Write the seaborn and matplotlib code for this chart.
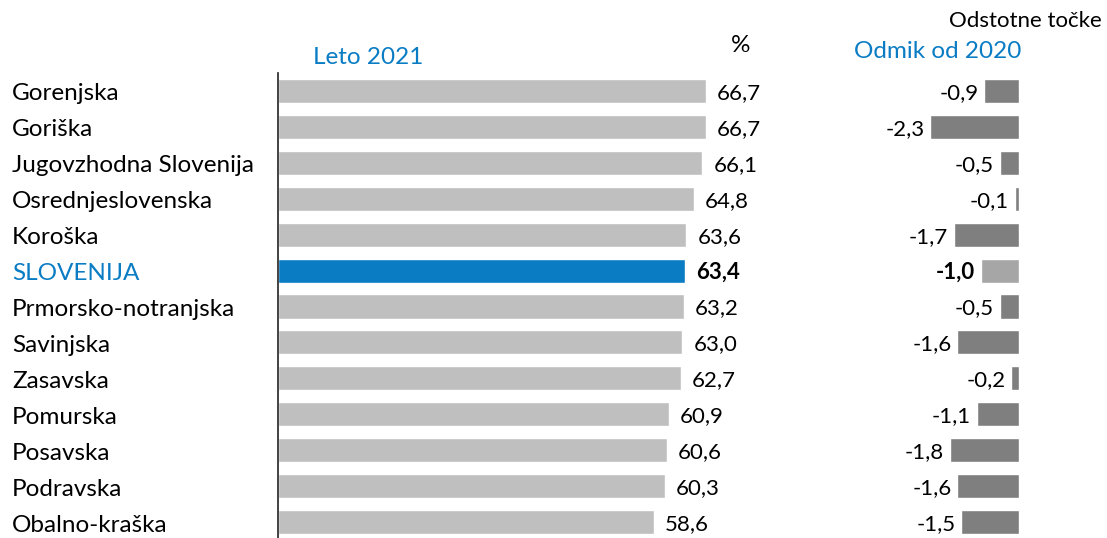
import matplotlib
matplotlib.use("Agg")
import matplotlib.pyplot as plt
import seaborn as sns
import pandas as pd

regions = ["Gorenjska", "Goriška", "Jugovzhodna Slovenija", "Osrednjeslovenska", "Koroška",
           "SLOVENIJA", "Prmorsko-notranjska", "Savinjska", "Zasavska", "Pomurska",
           "Posavska", "Podravska", "Obalno-kraška"]
rate_2021 = [66.7, 66.7, 66.1, 64.8, 63.6, 63.4, 63.2, 63.0, 62.7, 60.9, 60.6, 60.3, 58.6]
change_2020 = [-0.9, -2.3, -0.5, -0.1, -1.7, -1.0, -0.5, -1.6, -0.2, -1.1, -1.8, -1.6, -1.5]
highlight = "SLOVENIJA"

sns.set_theme(style="white")
plt.rcParams['font.family'] = ['Lato', 'DejaVu Sans']

BLUE = "#0A7CC4"
df = pd.DataFrame({"region": regions, "rate": rate_2021, "change": change_2020})

W, H = 1107, 538
fig = plt.figure(figsize=(W / 100, H / 100), dpi=100)

def ax_rect(x0, y0, x1, y1):
    return [x0 / W, 1 - y1 / H, (x1 - x0) / W, (y1 - y0) / H]

ax1 = fig.add_axes(ax_rect(278, 73, 278 + 6.42 * 70, 540))
ax2 = fig.add_axes(ax_rect(1019 - 38.5 * 3, 73, 1019, 540))

pal1 = {r: (BLUE if r == highlight else "#BFBFBF") for r in regions}
pal2 = {r: ("#A6A6A6" if r == highlight else "#7F7F7F") for r in regions}

sns.barplot(data=df, x="rate", y="region", hue="region", palette=pal1, orient="h",
            width=0.67, legend=False, ax=ax1, saturation=1)
sns.barplot(data=df, x="change", y="region", hue="region", palette=pal2, orient="h",
            width=0.67, legend=False, ax=ax2, saturation=1)

fs_lab = 17.5
fs_val = 16
ax1.set_xlim(0, 70)
ax1.set_ylim(12.5, -0.5)
ax2.set_xlim(-3, 0)
ax2.set_ylim(12.5, -0.5)

for ax in (ax1, ax2):
    ax.set_xlabel("")
    ax.set_ylabel("")
    ax.set_xticks([])
    for s in ax.spines.values():
        s.set_visible(False)
    ax.patch.set_alpha(0)

ax1.spines["left"].set_visible(True)
ax1.spines["left"].set_color("#222222")
ax1.spines["left"].set_linewidth(1.2)
ax1.set_yticks([])
ax2.set_yticks([])

for i, (r, v, c) in enumerate(zip(regions, rate_2021, change_2020)):
    bold = "bold" if r == highlight else "normal"
    col = BLUE if r == highlight else "black"
    ax1.annotate(r, xy=(0, i), xycoords=("axes fraction", "data"), xytext=(-266, -3),
                 textcoords="offset pixels", ha="left", va="center", fontsize=fs_lab, color=col)
    ax1.annotate(f"{v:.1f}".replace(".", ","), xy=(v, i), xytext=(11, -2), textcoords="offset pixels",
                 ha="left", va="center", fontsize=fs_val, fontweight=bold, color="black")
    ax2.annotate(f"{c:.1f}".replace(".", ","), xy=(c, i), xytext=(-6, -2), textcoords="offset pixels",
                 ha="right", va="center", fontsize=fs_val, fontweight=bold, color="black")

fig.text(368 / W, 1 - 58 / H, "Leto 2021", color=BLUE, fontsize=fs_lab, ha="center", va="center")
fig.text(741 / W, 1 - 46 / H, "%", color="black", fontsize=fs_lab, ha="center", va="center")
fig.text(1102 / W, 1 - 21 / H, "Odstotne točke", color="black", fontsize=fs_lab - 1.5, ha="right", va="center")
fig.text(938 / W, 1 - 51 / H, "Odmik od 2020", color=BLUE, fontsize=fs_lab, ha="center", va="center")

fig.savefig("out.png", dpi=100, facecolor="white")
